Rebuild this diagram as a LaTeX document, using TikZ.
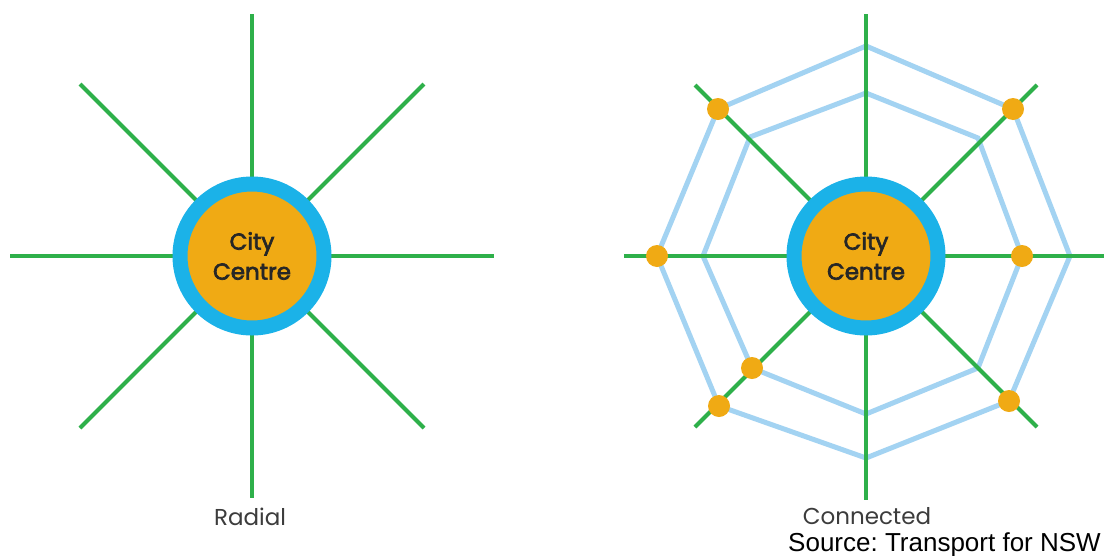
\documentclass[tikz,border=0pt]{standalone}
\usepackage{fontspec}
\setmainfont{Liberation Sans}
\newfontfamily\popfont{Poppins}
\newfontfamily\cityfont[FakeBold=3]{Poppins}
\definecolor{lgreen}{RGB}{46,176,74}
\definecolor{lblue}{RGB}{163,211,242}
\definecolor{ringblue}{RGB}{27,178,232}
\definecolor{corange}{RGB}{240,170,20}
\definecolor{txtgray}{RGB}{60,60,60}
\tikzset{
  greenline/.style={draw=lgreen, line width=4pt},
  octline/.style={draw=lblue, line width=5pt, line join=miter},
  centre/.style={circle, fill=corange, draw=ringblue, line width=15pt, minimum size=144pt, inner sep=0pt,
    align=center, font=\cityfont\fontsize{23}{30}\selectfont, text=black!85},
  stop/.style={circle, fill=corange, minimum size=22pt, inner sep=0pt},
  caption/.style={font=\popfont\fontsize{23}{26}\selectfont, text=txtgray, anchor=base},
}
\begin{document}
\begin{tikzpicture}[x=1pt,y=-1pt]
\clip (0,0) rectangle (1104,555);
\fill[white] (0,0) rectangle (1104,555);

% ---------- Radial ----------
\coordinate (c1) at (252,256);
\coordinate (a1n) at (252,14);
\coordinate (a1s) at (252,498);
\coordinate (a1w) at (10,256);
\coordinate (a1e) at (494,256);
\coordinate (a1nw) at (80,84);
\coordinate (a1ne) at (424,84);
\coordinate (a1sw) at (80,428);
\coordinate (a1se) at (424,428);
\foreach \e in {a1n,a1s,a1w,a1e,a1nw,a1ne,a1sw,a1se}
  \draw[greenline] (c1) -- (\e);
\node[centre] (city1) at (c1) {City\\Centre};
\node[caption] (radial) at (250,525) {Radial};

% ---------- Connected ----------
\coordinate (c2) at (866,256);
% outer octagon
\coordinate (o1) at (866,46);
\coordinate (o2) at (1013,109);
\coordinate (o3) at (1070,256);
\coordinate (o4) at (1009,401);
\coordinate (o5) at (866,458);
\coordinate (o6) at (719,406);
\coordinate (o7) at (657,256);
\coordinate (o8) at (718,109);
% inner octagon
\coordinate (i1) at (866,93);
\coordinate (i2) at (978,138);
\coordinate (i3) at (1022,256);
\coordinate (i4) at (978,368);
\coordinate (i5) at (866,414);
\coordinate (i6) at (752,368);
\coordinate (i7) at (703,256);
\coordinate (i8) at (750,137);
\draw[octline] (o1) -- (o2) -- (o3) -- (o4) -- (o5) -- (o6) -- (o7) -- (o8) -- cycle;
\draw[octline] (i1) -- (i2) -- (i3) -- (i4) -- (i5) -- (i6) -- (i7) -- (i8) -- cycle;

\coordinate (a2n) at (866,14);
\coordinate (a2s) at (866,500);
\coordinate (a2w) at (624,256);
\coordinate (a2e) at (1110,256);
\coordinate (a2nw) at (695,85);
\coordinate (a2ne) at (1037,85);
\coordinate (a2sw) at (695,427);
\coordinate (a2se) at (1037,427);
\foreach \e in {a2n,a2s,a2w,a2e,a2nw,a2ne,a2sw,a2se}
  \draw[greenline] (c2) -- (\e);
\node[centre] (city2) at (c2) {City\\Centre};

\node[stop] (s1) at (o8) {};
\node[stop] (s2) at (o2) {};
\node[stop] (s3) at (o7) {};
\node[stop] (s4) at (i3) {};
\node[stop] (s5) at (i6) {};
\node[stop] (s6) at (o6) {};
\node[stop] (s7) at (o4) {};

\node[caption] (connected) at (867,524) {Connected};
\node[anchor=base west, inner sep=0pt, font=\fontsize{26}{30}\selectfont] (source) at (788,551) {Source:\ Transport for NSW};
\end{tikzpicture}
\end{document}
